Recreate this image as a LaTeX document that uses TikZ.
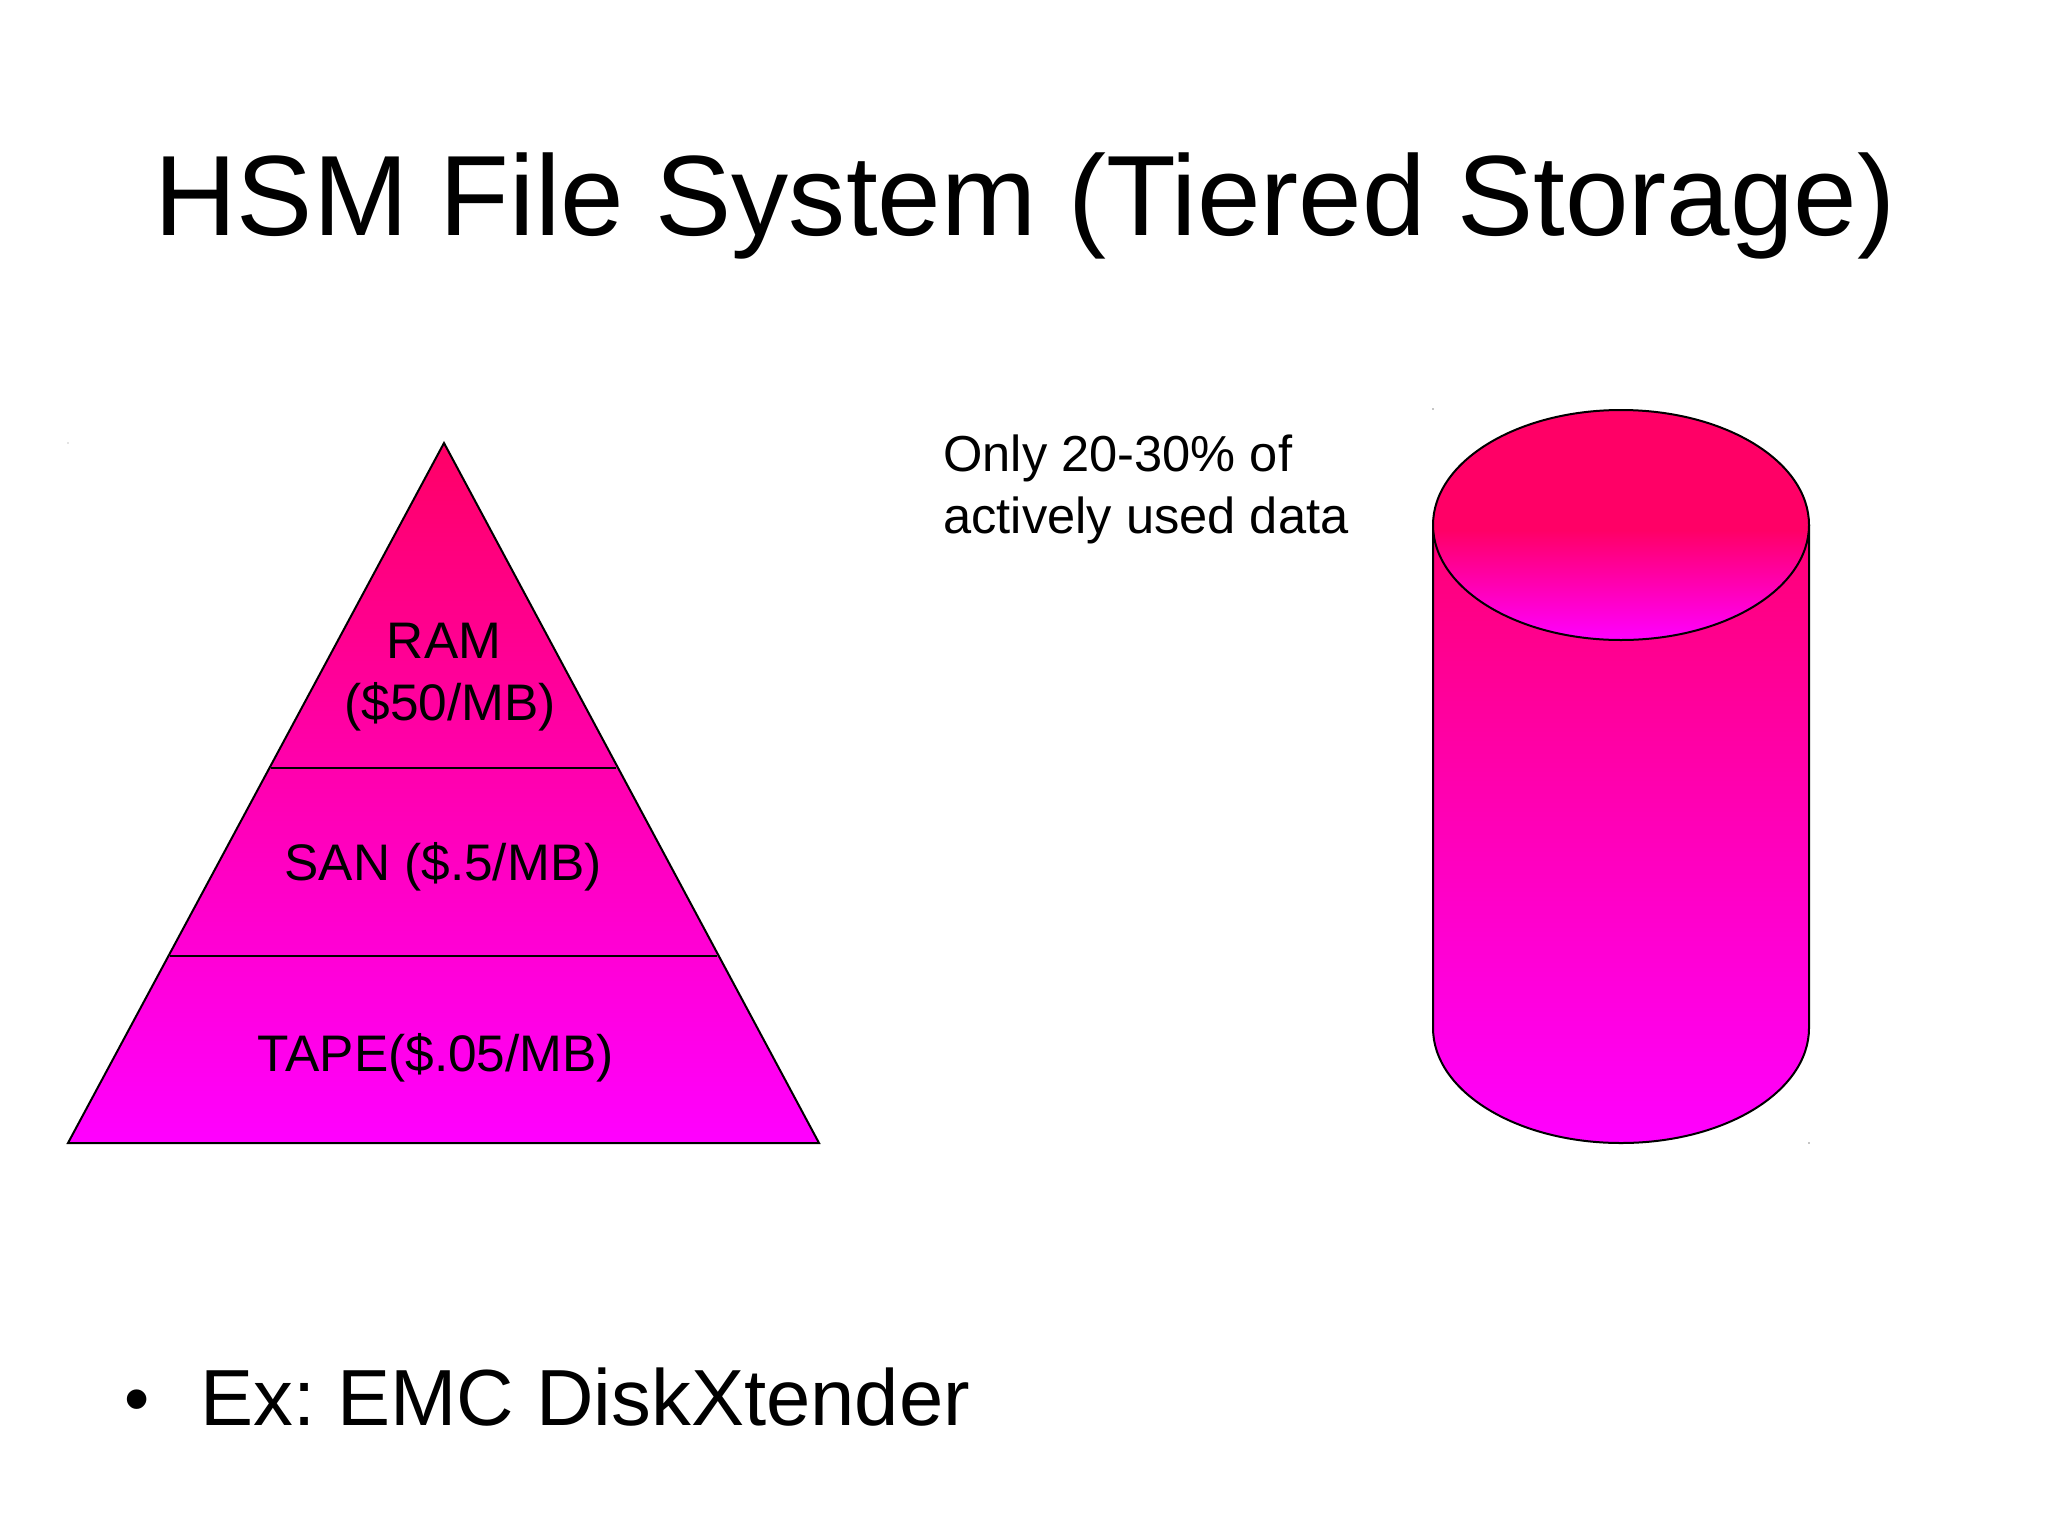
\documentclass[tikz,border=0pt]{standalone}
\usepackage{fontspec}
\setmainfont{Liberation Sans}
\definecolor{hot}{HTML}{FF0066}
\definecolor{bodytop}{HTML}{FF0074}
\definecolor{mag}{HTML}{FF00FF}
\tikzset{
  x=0.5pt,y=-0.5pt,
  outline/.style={draw=black,line width=1pt},
  ramp/.style={top color=hot,bottom color=mag,shading angle=0},
  titletext/.style={inner sep=0pt,anchor=base,font=\fontsize{57.1}{65}\selectfont},
  bullettext/.style={inner sep=0pt,anchor=base west,font=\fontsize{39.8}{46}\selectfont},
  bulletdot/.style={inner sep=0pt,anchor=base west,font=\fontsize{36}{46}\selectfont},
  labeltext/.style={inner sep=0pt,anchor=base,align=center,font=\fontsize{25.7}{30.8}\selectfont},
  notetext/.style={inner sep=0pt,anchor=base west,font=\fontsize{25.3}{30.8}\selectfont},
  speck/.style={fill=black!45,draw=none}
}
\begin{document}
\frenchspacing
\begin{tikzpicture}
\useasboundingbox (0,0) rectangle (2048,1536);
\fill[white] (0,0) rectangle (2048,1536);
\node[titletext] (title) at (1025,235) {HSM File System (Tiered Storage)};
% pyramid
\shade[ramp] (444,443) -- (819,1143) -- (68,1143) -- cycle;
\draw[outline,line join=miter] (444,443) -- (819,1143) -- (68,1143) -- cycle;
\coordinate (d1l) at (271,768);
\coordinate (d1r) at (616,768);
\coordinate (d2l) at (170,956);
\coordinate (d2r) at (717,956);
\draw[outline] (d1l) -- (d1r);
\draw[outline] (d2l) -- (d2r);
\node[labeltext] (ram) at (444,658) {RAM};
\node[labeltext] (ramp) at (450,720) {(\$50/MB)};
\node[labeltext] (san) at (443,880) {SAN (\$.5/MB)};
\node[labeltext] (tape) at (436,1071) {TAPE(\$.05/MB)};
% note
\node[notetext] (note1) at (943,471) {Only 20-30\% of};
\node[notetext] (note2) at (943,533) {actively used data};
% cylinder
\shade[top color=bodytop,bottom color=mag] (1433,525) arc[start angle=180,end angle=360,x radius=188,y radius=-115] -- (1809,1028) arc[start angle=0,end angle=180,x radius=188,y radius=115] -- cycle;
\draw[outline] (1433,525) -- (1433,1028) arc[start angle=180,end angle=360,x radius=188,y radius=-115] -- (1809,525);
\begin{scope}
\clip (1621,525) ellipse[x radius=188,y radius=115];
\fill[hot] (1433,410) rectangle (1809,530);
\shade[top color=hot,bottom color=mag] (1433,530) rectangle (1809,640);
\end{scope}
\draw[outline] (1621,525) ellipse[x radius=188,y radius=115];
% specks
\fill[speck] (68,443) circle[radius=0.6];
\fill[speck] (1433,409) circle[radius=0.8];
\fill[speck] (1809,1143) circle[radius=0.8];
% bullet
\node[bulletdot] (dot) at (124,1423) {•};
\node[bullettext] (ex) at (200,1425) {Ex: EMC DiskXtender};
\end{tikzpicture}
\end{document}
